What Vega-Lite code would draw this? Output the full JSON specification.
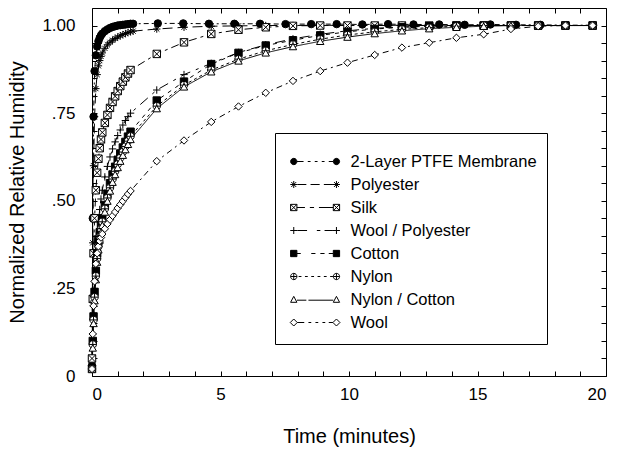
{
  "$schema": "https://vega.github.io/schema/vega-lite/v6.json",
  "width": 514,
  "height": 368,
  "autosize": "none",
  "padding": {"left": 92, "top": 8, "right": 11, "bottom": 80},
  "background": "white",
  "config": {
    "font": "Liberation Sans",
    "view": {"stroke": "black", "strokeWidth": 1},
    "axis": {
      "grid": false,
      "domain": false,
      "ticks": true,
      "tickWidth": 1,
      "tickSize": 5,
      "offset": -5,
      "tickColor": "black",
      "labelColor": "black",
      "titleColor": "black",
      "titleFontWeight": "normal",
      "labelFontSize": 17,
      "titleFontSize": 20
    },
    "legend": {
      "orient": "none",
      "legendX": 183,
      "legendY": 125,
      "title": " ",
      "titleFontSize": 4,
      "titlePadding": 3,
      "padding": 10,
      "strokeColor": "black",
      "fillColor": "white",
      "symbolSize": 196,
      "symbolStrokeWidth": 1,
      "symbolOpacity": 1,
      "symbolOffset": 4,
      "labelFontSize": 16.5,
      "labelColor": "black",
      "labelOffset": 45,
      "labelLimit": 400,
      "labelExpr": "datum.label + '\u00a0\u00a0\u00a0\u00a0\u00a0'",
      "clipHeight": 23,
      "rowPadding": 0
    }
  },
  "data": {
    "values": [
      {"m": "2-Layer PTFE Membrane", "t": 0, "v": 0.03},
      {"m": "2-Layer PTFE Membrane", "t": 0.03, "v": 0.45},
      {"m": "2-Layer PTFE Membrane", "t": 0.06, "v": 0.74},
      {"m": "2-Layer PTFE Membrane", "t": 0.1, "v": 0.87},
      {"m": "2-Layer PTFE Membrane", "t": 0.15, "v": 0.915},
      {"m": "2-Layer PTFE Membrane", "t": 0.2, "v": 0.94},
      {"m": "2-Layer PTFE Membrane", "t": 0.25, "v": 0.955},
      {"m": "2-Layer PTFE Membrane", "t": 0.3, "v": 0.965},
      {"m": "2-Layer PTFE Membrane", "t": 0.35, "v": 0.972},
      {"m": "2-Layer PTFE Membrane", "t": 0.4, "v": 0.977},
      {"m": "2-Layer PTFE Membrane", "t": 0.5, "v": 0.984},
      {"m": "2-Layer PTFE Membrane", "t": 0.6, "v": 0.989},
      {"m": "2-Layer PTFE Membrane", "t": 0.7, "v": 0.993},
      {"m": "2-Layer PTFE Membrane", "t": 0.8, "v": 0.996},
      {"m": "2-Layer PTFE Membrane", "t": 0.9, "v": 0.998},
      {"m": "2-Layer PTFE Membrane", "t": 1.0, "v": 1.0},
      {"m": "2-Layer PTFE Membrane", "t": 1.1, "v": 1.001},
      {"m": "2-Layer PTFE Membrane", "t": 1.2, "v": 1.002},
      {"m": "2-Layer PTFE Membrane", "t": 1.3, "v": 1.003},
      {"m": "2-Layer PTFE Membrane", "t": 1.4, "v": 1.004},
      {"m": "2-Layer PTFE Membrane", "t": 1.5, "v": 1.005},
      {"m": "2-Layer PTFE Membrane", "t": 1.6, "v": 1.005},
      {"m": "2-Layer PTFE Membrane", "t": 2.56, "v": 1.006},
      {"m": "2-Layer PTFE Membrane", "t": 3.55, "v": 1.006},
      {"m": "2-Layer PTFE Membrane", "t": 4.55, "v": 1.005},
      {"m": "2-Layer PTFE Membrane", "t": 5.54, "v": 1.005},
      {"m": "2-Layer PTFE Membrane", "t": 6.54, "v": 1.005},
      {"m": "2-Layer PTFE Membrane", "t": 7.53, "v": 1.004},
      {"m": "2-Layer PTFE Membrane", "t": 8.53, "v": 1.004},
      {"m": "2-Layer PTFE Membrane", "t": 9.52, "v": 1.004},
      {"m": "2-Layer PTFE Membrane", "t": 10.52, "v": 1.003},
      {"m": "2-Layer PTFE Membrane", "t": 11.52, "v": 1.004},
      {"m": "2-Layer PTFE Membrane", "t": 12.51, "v": 1.003},
      {"m": "2-Layer PTFE Membrane", "t": 13.51, "v": 1.003},
      {"m": "2-Layer PTFE Membrane", "t": 14.5, "v": 1.002},
      {"m": "2-Layer PTFE Membrane", "t": 15.5, "v": 1.003},
      {"m": "2-Layer PTFE Membrane", "t": 16.5, "v": 1.002},
      {"m": "2-Layer PTFE Membrane", "t": 17.45, "v": 1.002},
      {"m": "2-Layer PTFE Membrane", "t": 18.45, "v": 1.001},
      {"m": "2-Layer PTFE Membrane", "t": 19.5, "v": 1.001},

      {"m": "Polyester", "t": 0, "v": 0.05},
      {"m": "Polyester", "t": 0.03, "v": 0.38},
      {"m": "Polyester", "t": 0.06, "v": 0.6},
      {"m": "Polyester", "t": 0.1, "v": 0.74},
      {"m": "Polyester", "t": 0.15, "v": 0.82},
      {"m": "Polyester", "t": 0.2, "v": 0.86},
      {"m": "Polyester", "t": 0.25, "v": 0.885},
      {"m": "Polyester", "t": 0.3, "v": 0.9},
      {"m": "Polyester", "t": 0.35, "v": 0.912},
      {"m": "Polyester", "t": 0.4, "v": 0.922},
      {"m": "Polyester", "t": 0.5, "v": 0.935},
      {"m": "Polyester", "t": 0.6, "v": 0.945},
      {"m": "Polyester", "t": 0.7, "v": 0.952},
      {"m": "Polyester", "t": 0.8, "v": 0.958},
      {"m": "Polyester", "t": 0.9, "v": 0.963},
      {"m": "Polyester", "t": 1.0, "v": 0.967},
      {"m": "Polyester", "t": 1.1, "v": 0.971},
      {"m": "Polyester", "t": 1.2, "v": 0.974},
      {"m": "Polyester", "t": 1.3, "v": 0.977},
      {"m": "Polyester", "t": 1.4, "v": 0.98},
      {"m": "Polyester", "t": 1.5, "v": 0.982},
      {"m": "Polyester", "t": 1.6, "v": 0.984},
      {"m": "Polyester", "t": 2.52, "v": 0.99},
      {"m": "Polyester", "t": 3.58, "v": 0.995},
      {"m": "Polyester", "t": 4.64, "v": 0.998},
      {"m": "Polyester", "t": 5.7, "v": 0.999},
      {"m": "Polyester", "t": 6.76, "v": 1.0},
      {"m": "Polyester", "t": 7.82, "v": 1.0},
      {"m": "Polyester", "t": 8.88, "v": 1.001},
      {"m": "Polyester", "t": 9.94, "v": 1.0},
      {"m": "Polyester", "t": 11.0, "v": 1.0},
      {"m": "Polyester", "t": 12.06, "v": 1.001},
      {"m": "Polyester", "t": 13.12, "v": 1.0},
      {"m": "Polyester", "t": 14.18, "v": 1.0},
      {"m": "Polyester", "t": 15.24, "v": 1.0},
      {"m": "Polyester", "t": 16.3, "v": 1.0},
      {"m": "Polyester", "t": 17.36, "v": 1.0},
      {"m": "Polyester", "t": 18.42, "v": 1.0},
      {"m": "Polyester", "t": 19.48, "v": 1.0},

      {"m": "Silk", "t": 0, "v": 0.05},
      {"m": "Silk", "t": 0.03, "v": 0.22},
      {"m": "Silk", "t": 0.06, "v": 0.35},
      {"m": "Silk", "t": 0.1, "v": 0.45},
      {"m": "Silk", "t": 0.15, "v": 0.53},
      {"m": "Silk", "t": 0.2, "v": 0.58},
      {"m": "Silk", "t": 0.25, "v": 0.62},
      {"m": "Silk", "t": 0.3, "v": 0.65},
      {"m": "Silk", "t": 0.35, "v": 0.675},
      {"m": "Silk", "t": 0.4, "v": 0.695},
      {"m": "Silk", "t": 0.5, "v": 0.722},
      {"m": "Silk", "t": 0.6, "v": 0.745},
      {"m": "Silk", "t": 0.7, "v": 0.765},
      {"m": "Silk", "t": 0.8, "v": 0.782},
      {"m": "Silk", "t": 0.9, "v": 0.798},
      {"m": "Silk", "t": 1.0, "v": 0.813},
      {"m": "Silk", "t": 1.1, "v": 0.827},
      {"m": "Silk", "t": 1.2, "v": 0.84},
      {"m": "Silk", "t": 1.3, "v": 0.852},
      {"m": "Silk", "t": 1.4, "v": 0.863},
      {"m": "Silk", "t": 1.5, "v": 0.873},
      {"m": "Silk", "t": 2.52, "v": 0.919},
      {"m": "Silk", "t": 3.58, "v": 0.952},
      {"m": "Silk", "t": 4.64, "v": 0.976},
      {"m": "Silk", "t": 5.7, "v": 0.988},
      {"m": "Silk", "t": 6.76, "v": 0.995},
      {"m": "Silk", "t": 7.82, "v": 0.999},
      {"m": "Silk", "t": 8.88, "v": 1.0},
      {"m": "Silk", "t": 9.94, "v": 1.0},
      {"m": "Silk", "t": 11.0, "v": 1.0},
      {"m": "Silk", "t": 12.06, "v": 1.0},
      {"m": "Silk", "t": 13.12, "v": 1.0},
      {"m": "Silk", "t": 14.18, "v": 1.0},
      {"m": "Silk", "t": 15.24, "v": 1.0},
      {"m": "Silk", "t": 16.3, "v": 1.0},
      {"m": "Silk", "t": 17.36, "v": 1.0},
      {"m": "Silk", "t": 18.42, "v": 1.0},
      {"m": "Silk", "t": 19.48, "v": 1.0},

      {"m": "Wool / Polyester", "t": 0, "v": 0.02},
      {"m": "Wool / Polyester", "t": 0.03, "v": 0.12},
      {"m": "Wool / Polyester", "t": 0.06, "v": 0.2},
      {"m": "Wool / Polyester", "t": 0.1, "v": 0.27},
      {"m": "Wool / Polyester", "t": 0.15, "v": 0.34},
      {"m": "Wool / Polyester", "t": 0.2, "v": 0.4},
      {"m": "Wool / Polyester", "t": 0.25, "v": 0.44},
      {"m": "Wool / Polyester", "t": 0.3, "v": 0.475},
      {"m": "Wool / Polyester", "t": 0.35, "v": 0.505},
      {"m": "Wool / Polyester", "t": 0.4, "v": 0.53},
      {"m": "Wool / Polyester", "t": 0.5, "v": 0.568},
      {"m": "Wool / Polyester", "t": 0.6, "v": 0.598},
      {"m": "Wool / Polyester", "t": 0.7, "v": 0.625},
      {"m": "Wool / Polyester", "t": 0.8, "v": 0.648},
      {"m": "Wool / Polyester", "t": 0.9, "v": 0.668},
      {"m": "Wool / Polyester", "t": 1.0, "v": 0.686},
      {"m": "Wool / Polyester", "t": 1.1, "v": 0.702},
      {"m": "Wool / Polyester", "t": 1.2, "v": 0.716},
      {"m": "Wool / Polyester", "t": 1.3, "v": 0.729},
      {"m": "Wool / Polyester", "t": 1.4, "v": 0.74},
      {"m": "Wool / Polyester", "t": 1.5, "v": 0.75},
      {"m": "Wool / Polyester", "t": 2.52, "v": 0.816},
      {"m": "Wool / Polyester", "t": 3.58, "v": 0.86},
      {"m": "Wool / Polyester", "t": 4.64, "v": 0.892},
      {"m": "Wool / Polyester", "t": 5.7, "v": 0.923},
      {"m": "Wool / Polyester", "t": 6.76, "v": 0.945},
      {"m": "Wool / Polyester", "t": 7.82, "v": 0.962},
      {"m": "Wool / Polyester", "t": 8.88, "v": 0.975},
      {"m": "Wool / Polyester", "t": 9.94, "v": 0.985},
      {"m": "Wool / Polyester", "t": 11.0, "v": 0.992},
      {"m": "Wool / Polyester", "t": 12.06, "v": 0.996},
      {"m": "Wool / Polyester", "t": 13.12, "v": 0.998},
      {"m": "Wool / Polyester", "t": 14.18, "v": 1.0},
      {"m": "Wool / Polyester", "t": 15.24, "v": 1.0},
      {"m": "Wool / Polyester", "t": 16.3, "v": 1.0},
      {"m": "Wool / Polyester", "t": 17.36, "v": 1.0},
      {"m": "Wool / Polyester", "t": 18.42, "v": 1.0},
      {"m": "Wool / Polyester", "t": 19.48, "v": 1.0},

      {"m": "Cotton", "t": 0, "v": 0.02},
      {"m": "Cotton", "t": 0.03, "v": 0.1},
      {"m": "Cotton", "t": 0.06, "v": 0.17},
      {"m": "Cotton", "t": 0.1, "v": 0.24},
      {"m": "Cotton", "t": 0.15, "v": 0.3},
      {"m": "Cotton", "t": 0.2, "v": 0.35},
      {"m": "Cotton", "t": 0.25, "v": 0.385},
      {"m": "Cotton", "t": 0.3, "v": 0.41},
      {"m": "Cotton", "t": 0.35, "v": 0.43},
      {"m": "Cotton", "t": 0.4, "v": 0.45},
      {"m": "Cotton", "t": 0.5, "v": 0.488},
      {"m": "Cotton", "t": 0.6, "v": 0.52},
      {"m": "Cotton", "t": 0.7, "v": 0.55},
      {"m": "Cotton", "t": 0.8, "v": 0.575},
      {"m": "Cotton", "t": 0.9, "v": 0.597},
      {"m": "Cotton", "t": 1.0, "v": 0.617},
      {"m": "Cotton", "t": 1.1, "v": 0.635},
      {"m": "Cotton", "t": 1.2, "v": 0.652},
      {"m": "Cotton", "t": 1.3, "v": 0.668},
      {"m": "Cotton", "t": 1.4, "v": 0.683},
      {"m": "Cotton", "t": 1.5, "v": 0.697},
      {"m": "Cotton", "t": 2.52, "v": 0.786},
      {"m": "Cotton", "t": 3.58, "v": 0.84},
      {"m": "Cotton", "t": 4.64, "v": 0.89},
      {"m": "Cotton", "t": 5.7, "v": 0.922},
      {"m": "Cotton", "t": 6.76, "v": 0.943},
      {"m": "Cotton", "t": 7.82, "v": 0.958},
      {"m": "Cotton", "t": 8.88, "v": 0.972},
      {"m": "Cotton", "t": 9.94, "v": 0.982},
      {"m": "Cotton", "t": 11.0, "v": 0.99},
      {"m": "Cotton", "t": 12.06, "v": 0.995},
      {"m": "Cotton", "t": 13.12, "v": 0.998},
      {"m": "Cotton", "t": 14.18, "v": 1.0},
      {"m": "Cotton", "t": 15.24, "v": 1.0},
      {"m": "Cotton", "t": 16.3, "v": 1.0},
      {"m": "Cotton", "t": 17.36, "v": 1.0},
      {"m": "Cotton", "t": 18.42, "v": 1.0},
      {"m": "Cotton", "t": 19.48, "v": 1.0},

      {"m": "Nylon", "t": 0, "v": 0.02},
      {"m": "Nylon", "t": 0.03, "v": 0.09},
      {"m": "Nylon", "t": 0.06, "v": 0.16},
      {"m": "Nylon", "t": 0.1, "v": 0.225},
      {"m": "Nylon", "t": 0.15, "v": 0.285},
      {"m": "Nylon", "t": 0.2, "v": 0.335},
      {"m": "Nylon", "t": 0.25, "v": 0.37},
      {"m": "Nylon", "t": 0.3, "v": 0.398},
      {"m": "Nylon", "t": 0.35, "v": 0.42},
      {"m": "Nylon", "t": 0.4, "v": 0.44},
      {"m": "Nylon", "t": 0.5, "v": 0.477},
      {"m": "Nylon", "t": 0.6, "v": 0.508},
      {"m": "Nylon", "t": 0.7, "v": 0.537},
      {"m": "Nylon", "t": 0.8, "v": 0.562},
      {"m": "Nylon", "t": 0.9, "v": 0.584},
      {"m": "Nylon", "t": 1.0, "v": 0.604},
      {"m": "Nylon", "t": 1.1, "v": 0.622},
      {"m": "Nylon", "t": 1.2, "v": 0.639},
      {"m": "Nylon", "t": 1.3, "v": 0.655},
      {"m": "Nylon", "t": 1.4, "v": 0.67},
      {"m": "Nylon", "t": 1.5, "v": 0.684},
      {"m": "Nylon", "t": 2.52, "v": 0.77},
      {"m": "Nylon", "t": 3.58, "v": 0.83},
      {"m": "Nylon", "t": 4.64, "v": 0.873},
      {"m": "Nylon", "t": 5.7, "v": 0.904},
      {"m": "Nylon", "t": 6.76, "v": 0.928},
      {"m": "Nylon", "t": 7.82, "v": 0.946},
      {"m": "Nylon", "t": 8.88, "v": 0.961},
      {"m": "Nylon", "t": 9.94, "v": 0.973},
      {"m": "Nylon", "t": 11.0, "v": 0.982},
      {"m": "Nylon", "t": 12.06, "v": 0.989},
      {"m": "Nylon", "t": 13.12, "v": 0.994},
      {"m": "Nylon", "t": 14.18, "v": 0.998},
      {"m": "Nylon", "t": 15.24, "v": 1.0},
      {"m": "Nylon", "t": 16.3, "v": 1.0},
      {"m": "Nylon", "t": 17.36, "v": 1.0},
      {"m": "Nylon", "t": 18.42, "v": 1.0},
      {"m": "Nylon", "t": 19.48, "v": 1.0},

      {"m": "Nylon / Cotton", "t": 0, "v": 0.02},
      {"m": "Nylon / Cotton", "t": 0.03, "v": 0.08},
      {"m": "Nylon / Cotton", "t": 0.06, "v": 0.15},
      {"m": "Nylon / Cotton", "t": 0.1, "v": 0.215},
      {"m": "Nylon / Cotton", "t": 0.15, "v": 0.275},
      {"m": "Nylon / Cotton", "t": 0.2, "v": 0.325},
      {"m": "Nylon / Cotton", "t": 0.25, "v": 0.36},
      {"m": "Nylon / Cotton", "t": 0.3, "v": 0.388},
      {"m": "Nylon / Cotton", "t": 0.35, "v": 0.41},
      {"m": "Nylon / Cotton", "t": 0.4, "v": 0.43},
      {"m": "Nylon / Cotton", "t": 0.5, "v": 0.468},
      {"m": "Nylon / Cotton", "t": 0.6, "v": 0.499},
      {"m": "Nylon / Cotton", "t": 0.7, "v": 0.528},
      {"m": "Nylon / Cotton", "t": 0.8, "v": 0.553},
      {"m": "Nylon / Cotton", "t": 0.9, "v": 0.575},
      {"m": "Nylon / Cotton", "t": 1.0, "v": 0.595},
      {"m": "Nylon / Cotton", "t": 1.1, "v": 0.613},
      {"m": "Nylon / Cotton", "t": 1.2, "v": 0.63},
      {"m": "Nylon / Cotton", "t": 1.3, "v": 0.646},
      {"m": "Nylon / Cotton", "t": 1.4, "v": 0.661},
      {"m": "Nylon / Cotton", "t": 1.5, "v": 0.675},
      {"m": "Nylon / Cotton", "t": 2.52, "v": 0.763},
      {"m": "Nylon / Cotton", "t": 3.58, "v": 0.825},
      {"m": "Nylon / Cotton", "t": 4.64, "v": 0.868},
      {"m": "Nylon / Cotton", "t": 5.7, "v": 0.899},
      {"m": "Nylon / Cotton", "t": 6.76, "v": 0.922},
      {"m": "Nylon / Cotton", "t": 7.82, "v": 0.94},
      {"m": "Nylon / Cotton", "t": 8.88, "v": 0.955},
      {"m": "Nylon / Cotton", "t": 9.94, "v": 0.967},
      {"m": "Nylon / Cotton", "t": 11.0, "v": 0.977},
      {"m": "Nylon / Cotton", "t": 12.06, "v": 0.985},
      {"m": "Nylon / Cotton", "t": 13.12, "v": 0.991},
      {"m": "Nylon / Cotton", "t": 14.18, "v": 0.995},
      {"m": "Nylon / Cotton", "t": 15.24, "v": 0.998},
      {"m": "Nylon / Cotton", "t": 16.3, "v": 1.0},
      {"m": "Nylon / Cotton", "t": 17.36, "v": 1.0},
      {"m": "Nylon / Cotton", "t": 18.42, "v": 1.0},
      {"m": "Nylon / Cotton", "t": 19.48, "v": 1.0},

      {"m": "Wool", "t": 0, "v": 0.02},
      {"m": "Wool", "t": 0.03, "v": 0.12},
      {"m": "Wool", "t": 0.06, "v": 0.2},
      {"m": "Wool", "t": 0.1, "v": 0.27},
      {"m": "Wool", "t": 0.15, "v": 0.32},
      {"m": "Wool", "t": 0.2, "v": 0.35},
      {"m": "Wool", "t": 0.25, "v": 0.37},
      {"m": "Wool", "t": 0.3, "v": 0.385},
      {"m": "Wool", "t": 0.35, "v": 0.395},
      {"m": "Wool", "t": 0.4, "v": 0.405},
      {"m": "Wool", "t": 0.5, "v": 0.42},
      {"m": "Wool", "t": 0.6, "v": 0.434},
      {"m": "Wool", "t": 0.7, "v": 0.446},
      {"m": "Wool", "t": 0.8, "v": 0.457},
      {"m": "Wool", "t": 0.9, "v": 0.468},
      {"m": "Wool", "t": 1.0, "v": 0.479},
      {"m": "Wool", "t": 1.1, "v": 0.489},
      {"m": "Wool", "t": 1.2, "v": 0.499},
      {"m": "Wool", "t": 1.3, "v": 0.509},
      {"m": "Wool", "t": 1.4, "v": 0.519},
      {"m": "Wool", "t": 1.5, "v": 0.528},
      {"m": "Wool", "t": 2.52, "v": 0.613},
      {"m": "Wool", "t": 3.58, "v": 0.672},
      {"m": "Wool", "t": 4.64, "v": 0.725},
      {"m": "Wool", "t": 5.7, "v": 0.769},
      {"m": "Wool", "t": 6.76, "v": 0.808},
      {"m": "Wool", "t": 7.82, "v": 0.842},
      {"m": "Wool", "t": 8.88, "v": 0.87},
      {"m": "Wool", "t": 9.94, "v": 0.894},
      {"m": "Wool", "t": 11.0, "v": 0.916},
      {"m": "Wool", "t": 12.06, "v": 0.937},
      {"m": "Wool", "t": 13.12, "v": 0.951},
      {"m": "Wool", "t": 14.18, "v": 0.965},
      {"m": "Wool", "t": 15.24, "v": 0.975},
      {"m": "Wool", "t": 16.3, "v": 0.99},
      {"m": "Wool", "t": 17.36, "v": 0.998},
      {"m": "Wool", "t": 18.42, "v": 1.0},
      {"m": "Wool", "t": 19.48, "v": 1.0}
    ]
  },
  "layer": [
    {
      "mark": {"type": "line", "stroke": "black", "strokeWidth": 1},
      "encoding": {
        "x": {
          "field": "t", "type": "quantitative",
          "scale": {"domain": [0, 20], "nice": false},
          "axis": {
            "orient": "bottom",
            "title": "Time (minutes)",
            "values": [0, 1, 2, 3, 4, 5, 6, 7, 8, 9, 10, 11, 12, 13, 14, 15, 16, 17, 18, 19, 20],
            "labelExpr": "datum.value % 5 === 0 ? datum.label : ''",
            "labelPadding": 10,
            "titlePadding": 24
          }
        },
        "y": {
          "field": "v", "type": "quantitative",
          "scale": {"domain": [0, 1.05], "nice": false, "zero": false},
          "axis": {
            "orient": "left",
            "title": "Normalized Relative Humidity",
            "values": [0, 0.05, 0.1, 0.15, 0.2, 0.25, 0.3, 0.35, 0.4, 0.45, 0.5, 0.55, 0.6, 0.65, 0.7, 0.75, 0.8, 0.85, 0.9, 0.95, 1],
            "labelExpr": "datum.value === 0 ? '0' : datum.value === 1 ? '1.00' : datum.value === 0.25 ? '.25' : datum.value === 0.5 ? '.50' : datum.value === 0.75 ? '.75' : ''",
            "labelPadding": 17,
            "titlePadding": 14
          }
        },
        "detail": {"field": "m"},
        "strokeDash": {
          "field": "m", "type": "nominal", "legend": null,
          "scale": {
            "domain": ["2-Layer PTFE Membrane", "Polyester", "Silk", "Wool / Polyester", "Cotton", "Nylon", "Nylon / Cotton", "Wool"],
            "range": [[5, 3, 2, 3], [10, 5], [8, 4, 3, 4], [10, 6, 3, 6], [4, 5], [3, 3], [1, 0], [6, 4, 2, 4]]
          }
        }
      }
    },
    {
      "mark": {"type": "point", "stroke": "black", "strokeWidth": 1, "size": 55, "opacity": 1},
      "encoding": {
        "x": {
          "field": "t", "type": "quantitative",
          "axis": {
            "orient": "top", "title": null, "labels": false,
            "values": [0, 1, 2, 3, 4, 5, 6, 7, 8, 9, 10, 11, 12, 13, 14, 15, 16, 17, 18, 19, 20]
          }
        },
        "y": {
          "field": "v", "type": "quantitative",
          "axis": {
            "orient": "right", "title": null, "labels": false,
            "values": [0, 0.05, 0.1, 0.15, 0.2, 0.25, 0.3, 0.35, 0.4, 0.45, 0.5, 0.55, 0.6, 0.65, 0.7, 0.75, 0.8, 0.85, 0.9, 0.95, 1]
          }
        },
        "shape": {
          "field": "m", "type": "nominal", "legend": null,
          "scale": {
            "domain": ["2-Layer PTFE Membrane", "Polyester", "Silk", "Wool / Polyester", "Cotton", "Nylon", "Nylon / Cotton", "Wool"],
            "range": [
              "circle",
              "M-1,0H1M0,-1V1M-0.7,-0.7L0.7,0.7M-0.7,0.7L0.7,-0.7",
              "M-1,-1H1V1H-1ZM-1,-1L1,1M-1,1L1,-1",
              "M-1,0H1M0,-1V1",
              "square",
              "M1,0A1,1,0,1,1,-1,0A1,1,0,1,1,1,0ZM-1,0H1M0,-1V1",
              "triangle-up",
              "diamond"
            ]
          }
        },
        "fill": {
          "field": "m", "type": "nominal", "legend": null,
          "scale": {
            "domain": ["2-Layer PTFE Membrane", "Polyester", "Silk", "Wool / Polyester", "Cotton", "Nylon", "Nylon / Cotton", "Wool"],
            "range": ["black", "white", "white", "white", "black", "white", "white", "white"]
          }
        }
      }
    },
    {
      "transform": [{"filter": "datum.t === 0"}],
      "mark": {"type": "point", "strokeWidth": 1, "opacity": 0},
      "encoding": {
        "x": {"field": "t", "type": "quantitative", "axis": null},
        "y": {"field": "v", "type": "quantitative", "axis": null},
        "shape": {
          "field": "m", "type": "nominal",
          "scale": {
            "domain": ["2-Layer PTFE Membrane", "Polyester", "Silk", "Wool / Polyester", "Cotton", "Nylon", "Nylon / Cotton", "Wool"],
            "range": [
              "M-0.05,0A0.45,0.45,0,1,1,-0.95,0A0.45,0.45,0,1,1,-0.05,0ZM6.05,0A0.45,0.45,0,1,1,5.15,0A0.45,0.45,0,1,1,6.05,0ZM-0.05,0H0.9M1.5,0H1.9M2.5,0H2.9M3.5,0H3.9M4.5,0H5.15",
              "M-1,0H0M-0.5,-0.5V0.5M-0.85,-0.35L-0.15,0.35M-0.85,0.35L-0.15,-0.35M5.1,0H6.1M5.6,-0.5V0.5M5.25,-0.35L5.95,0.35M5.25,0.35L5.95,-0.35M0,0H1.3M1.9,0H3.2M3.8,0H5.1",
              "M-0.95,-0.45H-0.05V0.45H-0.95ZM-0.95,-0.45L-0.05,0.45M-0.95,0.45L-0.05,-0.45M5.15,-0.45H6.05V0.45H5.15ZM5.15,-0.45L6.05,0.45M5.15,0.45L6.05,-0.45M-0.05,0H1.1M1.8,0H2.4M3.1,0H5.15",
              "M-1,0H0M-0.5,-0.5V0.5M5.1,0H6.1M5.6,-0.5V0.5M0,0H1.4M2.8,0H3.3M3.9,0H5.1",
              "M-0.95,-0.45H-0.05V0.45H-0.95ZM5.15,-0.45H6.05V0.45H5.15ZM-0.05,0H0.5M2.0,0H2.6M3.3,0H3.9M4.5,0H5.15",
              "M-0.05,0A0.45,0.45,0,1,1,-0.95,0A0.45,0.45,0,1,1,-0.05,0ZM-0.95,0H-0.05M-0.5,-0.45V0.45M6.05,0A0.45,0.45,0,1,1,5.15,0A0.45,0.45,0,1,1,6.05,0ZM5.15,0H6.05M5.6,-0.45V0.45M0.2,0H0.6M1.1,0H1.5M2.0,0H2.4M2.9,0H3.3M3.8,0H4.2M4.7,0H5.1",
              "M-0.5,-0.45L-0.05,0.4H-0.95ZM5.6,-0.45L6.05,0.4H5.15ZM-0.05,0.1H1.3M1.6,0.1H5.15",
              "M-0.5,-0.5L0,0L-0.5,0.5L-1,0ZM5.6,-0.5L6.1,0L5.6,0.5L5.1,0ZM0,0H1.0M1.6,0H2.0M2.6,0H3.0M3.6,0H4.0M4.5,0H5.1"
            ]
          },
          "legend": {"title": " "}
        },
        "fill": {
          "field": "m", "type": "nominal",
          "scale": {
            "domain": ["2-Layer PTFE Membrane", "Polyester", "Silk", "Wool / Polyester", "Cotton", "Nylon", "Nylon / Cotton", "Wool"],
            "range": ["black", "white", "white", "white", "black", "white", "white", "white"]
          },
          "legend": {"title": " "}
        },
        "stroke": {
          "field": "m", "type": "nominal",
          "scale": {
            "domain": ["2-Layer PTFE Membrane", "Polyester", "Silk", "Wool / Polyester", "Cotton", "Nylon", "Nylon / Cotton", "Wool"],
            "range": ["black", "black", "black", "black", "black", "black", "black", "black"]
          },
          "legend": {"title": " "}
        }
      }
    }
  ],
  "resolve": {
    "scale": {"shape": "independent", "fill": "independent", "stroke": "independent"},
    "axis": {"x": "independent", "y": "independent"}
  }
}
